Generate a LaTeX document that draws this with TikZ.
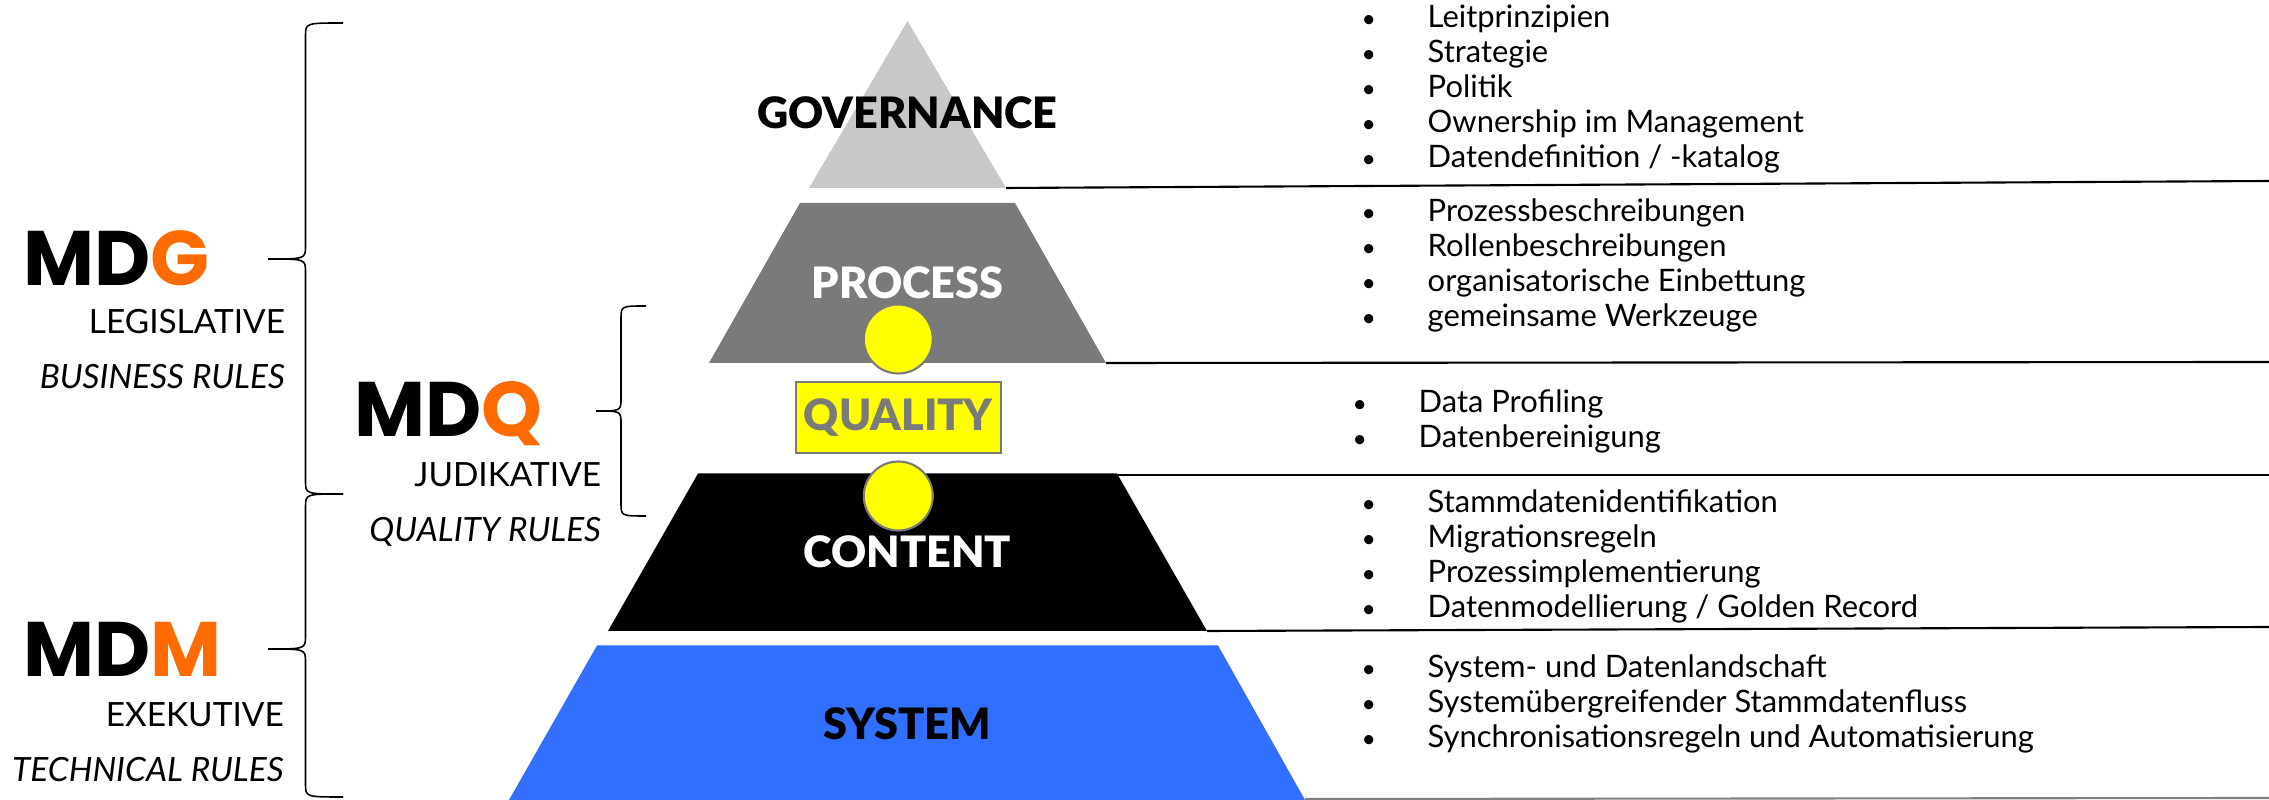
\documentclass[tikz,border=0pt]{standalone}
\usepackage{fontspec}
\setmainfont{Lato}
\newfontfamily\popfont{Poppins}
\newfontfamily\heavyfont{Lato Black}
\usetikzlibrary{positioning}

\definecolor{govgray}{HTML}{C8C8C8}
\definecolor{procgray}{HTML}{7A7A7A}
\definecolor{sysblue}{HTML}{306FFF}
\definecolor{mdorange}{HTML}{FF6B00}
\definecolor{qualyellow}{HTML}{FFFF00}

\newcommand{\bulletitem}[1]{\makebox[0.54cm][l]{\hspace{-0.12cm}\scalebox{0.8}{\textbullet}}#1}
% #1 end x, #2 bottom y, #3 top y, #4 tip y, #5 depth
\newcommand{\curlybracket}[5]{%
  \draw[bracket] (#1,#3) .. controls ({#1-#5/2},#3) .. ({#1-#5/2},{#3-0.13})
    -- ({#1-#5/2},{#4+0.13}) .. controls ({#1-#5/2},#4) .. ({#1-#5},#4)
    .. controls ({#1-#5/2},#4) .. ({#1-#5/2},{#4-0.13})
    -- ({#1-#5/2},{#2+0.13}) .. controls ({#1-#5/2},#2) .. (#1,#2);}

\tikzset{
  layerlabel/.style={font=\heavyfont\fontsize{12.3}{14}\selectfont, inner sep=0, anchor=base},
  bigmd/.style={font=\popfont\fontsize{22}{24}\selectfont\bfseries, inner sep=0, anchor=base west},
  role/.style={font=\fontsize{9.5}{11}\selectfont, inner sep=0, anchor=base east},
  rules/.style={role, font=\fontsize{9.5}{11}\selectfont\itshape},
  item/.style={font=\fontsize{8.8}{10}\selectfont, inner sep=0, anchor=base west},
  divider/.style={line width=0.6pt},
  bracket/.style={line width=0.45pt},
  dot/.style={circle, fill=qualyellow, draw=procgray, line width=0.6pt,
    minimum size=0.69cm, inner sep=0},
  qualbox/.style={draw=procgray, fill=qualyellow, line width=0.6pt, text=procgray,
    minimum width=2.05cm, minimum height=0.71cm, inner sep=0,
    font=\heavyfont\fontsize{12.3}{14}\selectfont}
}

\begin{document}
\begin{tikzpicture}
  \useasboundingbox (0,0) rectangle (22.69,8);

  % pyramid layers
  \fill[govgray] (9.075,7.79) -- (8.09,6.12) -- (10.06,6.12) -- cycle;
  \fill[procgray] (8.00,5.97) -- (10.15,5.97) -- (11.06,4.37) -- (7.09,4.37) -- cycle;
  \fill[black] (6.98,3.265) -- (11.17,3.265) -- (12.07,1.69) -- (6.08,1.69) -- cycle;
  \fill[sysblue] (5.97,1.545) -- (12.18,1.545) -- (13.05,0) -- (5.09,0) -- cycle;

  \coordinate (gov-r) at (10.06,6.12);
  \coordinate (proc-r) at (11.06,4.37);
  \coordinate (cont-tr) at (11.17,3.25);
  \coordinate (cont-r) at (12.07,1.69);
  \coordinate (sys-r) at (13.05,0.01);

  \node[layerlabel] (governance) at (9.075,6.71) {GOVERNANCE};
  \node[layerlabel, text=white] (process) at (9.075,5.015) {PROCESS};
  \node[layerlabel, text=white] (content) at (9.075,2.327) {CONTENT};
  \node[layerlabel] (system) at (9.07,0.602) {SYSTEM};

  \node[dot] (dot-up) at (8.983,4.61) {};
  \node[dot] (dot-down) at (8.983,3.04) {};
  \node[qualbox] (quality) at (8.984,3.823) {QUALITY};

  % divider lines
  \coordinate (end-1) at (22.69,6.19);
  \coordinate (end-2) at (22.69,4.38);
  \coordinate (end-3) at (22.69,3.25);
  \coordinate (end-4) at (22.69,1.73);
  \coordinate (end-5) at (22.69,0.02);
  \draw[divider] (gov-r) -- (end-1);
  \draw[divider] (proc-r) -- (end-2);
  \draw[divider] (cont-tr) -- (end-3);
  \draw[divider] (cont-r) -- (end-4);
  \draw[divider, gray] (sys-r) -- (end-5);

  % lists
  \foreach \txt [count=\i] in {Leitprinzipien, Strategie, Politik,
      Ownership im Management, Datendefinition / -katalog}
    \node[item] (gov-\i) at (13.73,{7.72-0.35*(\i-1)}) {\bulletitem{\txt}};
  \foreach \txt [count=\i] in {Prozessbeschreibungen, Rollenbeschreibungen,
      organisatorische Einbettung, gemeinsame Werkzeuge}
    \node[item] (proc-\i) at (13.73,{5.78-0.35*(\i-1)}) {\bulletitem{\txt}};
  \foreach \txt [count=\i] in {Data Profiling, Datenbereinigung}
    \node[item] (qual-\i) at (13.64,{3.87-0.35*(\i-1)}) {\bulletitem{\txt}};
  \foreach \txt [count=\i] in {Stammdatenidentifikation, Migrationsregeln,
      Prozessimplementierung, Datenmodellierung / Golden Record}
    \node[item] (cont-\i) at (13.73,{2.87-0.35*(\i-1)}) {\bulletitem{\txt}};
  \foreach \txt [count=\i] in {System- und Datenlandschaft,
      Systemübergreifender Stammdatenfluss,
      Synchronisationsregeln und Automatisierung}
    \node[item] (sys-\i) at (13.73,{1.22-0.35*(\i-1)}) {\bulletitem{\txt}};

  % left side
  \curlybracket{3.43}{3.06}{7.77}{5.41}{0.75}
  \curlybracket{3.43}{0.03}{3.06}{1.51}{0.75}
  \curlybracket{6.46}{2.84}{4.94}{3.89}{0.50}

  \node[bigmd] (mdg) at (0.23,5.14) {MD\textcolor{mdorange}{G}};
  \node[role] (legis) at (2.857,4.66) {LEGISLATIVE};
  \node[rules] (busrules) at (2.857,4.11) {BUSINESS RULES};
  \node[bigmd] (mdq) at (3.54,3.63) {MD\textcolor{mdorange}{Q}};
  \node[role] (judik) at (6.018,3.13) {JUDIKATIVE};
  \node[rules] (qualrules) at (6.018,2.58) {QUALITY RULES};
  \node[bigmd] (mdm) at (0.23,1.23) {MD\textcolor{mdorange}{M}};
  \node[role] (exek) at (2.844,0.73) {EXEKUTIVE};
  \node[rules] (techrules) at (2.844,0.184) {TECHNICAL RULES};
\end{tikzpicture}
\end{document}
